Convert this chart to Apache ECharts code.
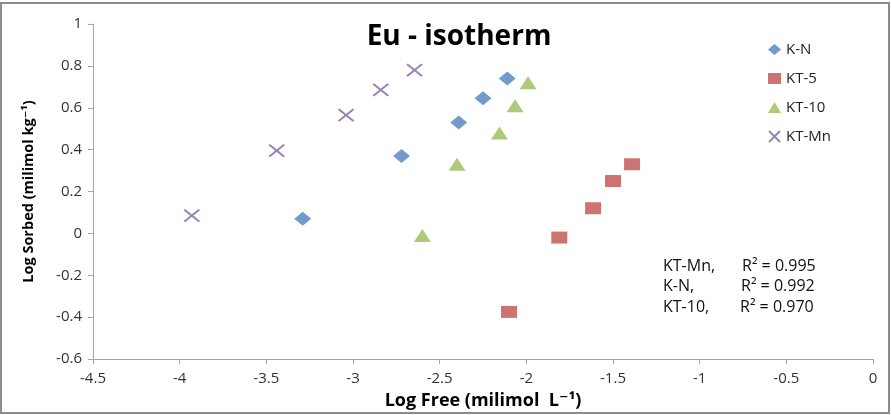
<!DOCTYPE html>
<html>
<head>
<meta charset="utf-8">
<script src="https://cdn.jsdelivr.net/npm/echarts@6/dist/echarts.min.js"></script>
<style>
  html, body { margin: 0; padding: 0; background: #fff; }
  #chart { width: 891px; height: 415px; }
</style>
</head>
<body>
<div id="chart"></div>
<script>
// Freundlich isotherm data: log of free vs. sorbed Eu concentration
const seriesNames = ['K-N', 'KT-5', 'KT-10', 'KT-Mn'];

const kN_x   = [-3.29, -2.72, -2.39, -2.25, -2.11];
const kN_y   = [0.07, 0.37, 0.53, 0.645, 0.74];

const kt5_x  = [-2.10, -1.81, -1.615, -1.50, -1.39];
const kt5_y  = [-0.375, -0.02, 0.12, 0.25, 0.33];

const kt10_x = [-2.60, -2.40, -2.155, -2.065, -1.99];
const kt10_y = [-0.01, 0.33, 0.48, 0.61, 0.72];

const ktMn_x = [-3.93, -3.44, -3.04, -2.84, -2.645];
const ktMn_y = [0.085, 0.395, 0.565, 0.685, 0.78];

const xTicks = { min: -4.5, max: 0, step: 0.5 };
const yTicks = { min: -0.6, max: 1, step: 0.2 };

const fitLabels = ['KT-Mn,', 'K-N,', 'KT-10,'];
const fitR2 = ['R\u00B2 = 0.995', 'R\u00B2 = 0.992', 'R\u00B2 = 0.970'];

const colors = ['#4F81BD', '#C0504D', '#9BBB59', '#8064A2'];
const FONT = "'Open Sans', 'DejaVu Sans', sans-serif";

function pairs(xs, ys) { return xs.map((x, i) => [x, ys[i]]); }

function fmt(v) {
  const r = Math.round(v * 10) / 10;
  return Object.is(r, -0) ? '0' : String(r);
}

const chart = echarts.init(document.getElementById('chart'), null, { renderer: 'canvas' });

const crossPath = 'path://M0,0L10,10M10,0L0,10';

chart.setOption({
  animation: false,
  backgroundColor: '#ffffff',
  title: {
    text: 'Eu - isotherm',
    left: 454,
    top: 18,
    textAlign: 'center',
    textStyle: { fontFamily: FONT, fontSize: 28, fontWeight: 'bold', color: '#000' }
  },
  grid: { left: 93, right: 18, top: 24, bottom: 56, containLabel: false },
  legend: {
    orient: 'vertical',
    left: 763,
    top: 37,
    itemGap: 14,
    itemWidth: 13,
    itemHeight: 11,
    data: seriesNames,
    textStyle: { fontFamily: FONT, fontSize: 15, color: '#222' }
  },
  xAxis: {
    type: 'value',
    min: xTicks.min,
    max: xTicks.max,
    interval: xTicks.step,
    name: 'Log Free (milimol  L\u207B\u00B9)',
    nameLocation: 'middle',
    nameGap: 33,
    nameTextStyle: { fontFamily: FONT, fontSize: 18, fontWeight: 'bold', color: '#000' },
    axisLine: { onZero: false, lineStyle: { color: '#A6A6A6', width: 1 } },
    axisTick: { show: true, length: 5, inside: false, lineStyle: { color: '#A6A6A6' } },
    axisLabel: { fontFamily: FONT, fontSize: 15, color: '#333', margin: 12, formatter: fmt },
    splitLine: { show: false }
  },
  yAxis: {
    type: 'value',
    min: yTicks.min,
    max: yTicks.max,
    interval: yTicks.step,
    name: 'Log Sorbed (milimol kg\u207B\u00B9)',
    nameLocation: 'middle',
    nameGap: 57,
    nameRotate: 90,
    nameTextStyle: { fontFamily: FONT, fontSize: 14.5, fontWeight: 'bold', color: '#000' },
    axisLine: { show: true, onZero: false, lineStyle: { color: '#A6A6A6', width: 1 } },
    axisTick: { show: true, length: 5, inside: false, lineStyle: { color: '#A6A6A6' } },
    axisLabel: { fontFamily: FONT, fontSize: 15, color: '#333', margin: 11, formatter: fmt },
    splitLine: { show: false }
  },
  series: [
    {
      name: seriesNames[0], type: 'scatter', symbol: 'diamond', symbolSize: [17, 14],
      itemStyle: { color: colors[0] }, data: pairs(kN_x, kN_y)
    },
    {
      name: seriesNames[1], type: 'scatter', symbol: 'rect', symbolSize: [16, 12],
      itemStyle: { color: colors[1] }, data: pairs(kt5_x, kt5_y)
    },
    {
      name: seriesNames[2], type: 'scatter', symbol: 'triangle', symbolSize: [17, 13],
      itemStyle: { color: colors[2] }, data: pairs(kt10_x, kt10_y)
    },
    {
      name: seriesNames[3], type: 'scatter', symbol: crossPath, symbolSize: [15, 12],
      itemStyle: { color: 'rgba(0,0,0,0)', borderColor: colors[3], borderWidth: 2 },
      data: pairs(ktMn_x, ktMn_y)
    }
  ],
  graphic: [
    {
      type: 'rect', silent: true, z: -1,
      shape: { x: 1, y: 3, width: 888, height: 410 },
      style: { fill: 'none', stroke: '#8C8C8C', lineWidth: 2 }
    },
    ...fitLabels.map((t, i) => ({
      type: 'text', left: 663, top: 258 + i * 20.5,
      style: { text: t, fontFamily: FONT, fontSize: 16, fill: '#111' }
    })),
    ...fitR2.map((t, i) => ({
      type: 'text', left: 742 - i, top: 258 + i * 20.5,
      style: { text: t, fontFamily: FONT, fontSize: 16, fill: '#111' }
    }))
  ]
});
</script>
</body>
</html>
